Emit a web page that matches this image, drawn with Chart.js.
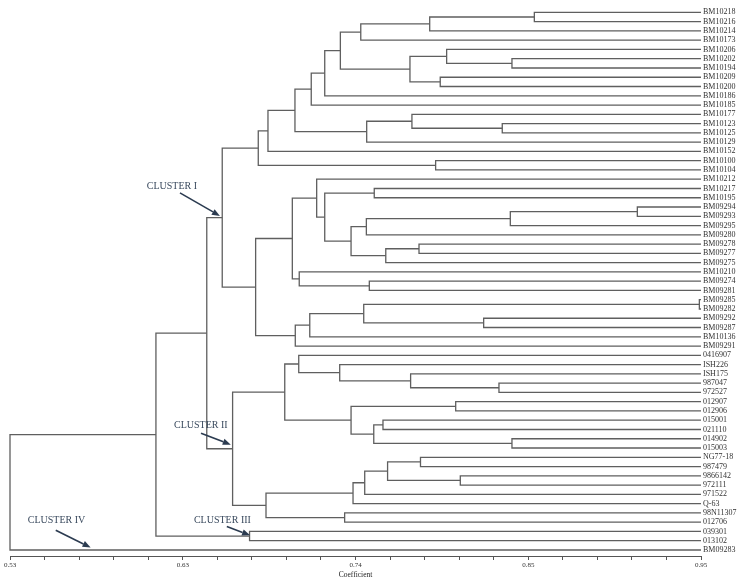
<!DOCTYPE html>
<html>
<head>
<meta charset="utf-8">
<script src="https://cdn.jsdelivr.net/npm/chart.js@4/dist/chart.umd.min.js"></script>
<style>
html,body{margin:0;padding:0;background:#ffffff;}
canvas{display:block;}
</style>
</head>
<body>
<canvas id="c" width="738" height="580"></canvas>
<script>
// ---- DATA ----
const leaves = [
  'BM10218','BM10216','BM10214','BM10173','BM10206','BM10202','BM10194','BM10209','BM10200','BM10186',
  'BM10185','BM10177','BM10123','BM10125','BM10129','BM10152','BM10100','BM10104','BM10212','BM10217',
  'BM10195','BM09294','BM09293','BM09295','BM09280','BM09278','BM09277','BM09275','BM10210','BM09274',
  'BM09281','BM09285','BM09282','BM09292','BM09287','BM10136','BM09291','0416907','ISH226','ISH175',
  '987047','972527','012907','012906','015001','021110','014902','015003','NG77-18','987479',
  '9866142','972111','971522','Q-63','98N11307','012706','039301','013102','BM09283'
];
// linkage: child ids < 59 are leaves, ids >= 59 are earlier merges (59 + merge index)
const mergeLeft = [
  0, 59, 60, 5, 4, 7, 63, 61, 66, 67,
  12, 11, 70, 68, 72, 16, 73, 19, 21, 77,
  78, 25, 80, 79, 76, 18, 29, 28, 84, 31,
  33, 88, 90, 91, 87, 75, 40, 39, 38, 37,
  42, 44, 46, 100, 99, 98, 48, 50, 105, 107,
  108, 54, 109, 104, 94, 56, 113, 115
];
const mergeRight = [
  1, 2, 3, 6, 62, 8, 64, 65, 9, 10,
  13, 69, 14, 71, 15, 17, 74, 20, 22, 23,
  24, 26, 27, 81, 82, 83, 30, 85, 86, 32,
  34, 89, 35, 36, 92, 93, 41, 95, 96, 97,
  43, 45, 47, 101, 102, 103, 49, 51, 106, 52,
  53, 55, 110, 111, 112, 57, 114, 58
];
const mergeCoefficient = [
  0.8487, 0.7851, 0.7432, 0.8351, 0.7954, 0.7915, 0.7731, 0.7308, 0.7213, 0.7131,
  0.8292, 0.7743, 0.7468, 0.7032, 0.6868, 0.7887, 0.6809, 0.7514, 0.9113, 0.8341,
  0.7466, 0.7786, 0.7584, 0.7373, 0.7213, 0.7164, 0.7484, 0.7058, 0.7016, 0.9490,
  0.8179, 0.7450, 0.7122, 0.7034, 0.6793, 0.6590, 0.8272, 0.7735, 0.7304, 0.7055,
  0.8009, 0.7567, 0.8351, 0.7511, 0.7373, 0.6970, 0.7795, 0.8037, 0.7595, 0.7456,
  0.7385, 0.7334, 0.6856, 0.6653, 0.6496, 0.6756, 0.6187, 0.5300
];
const leafCoefficient = 0.95;
const xMajorTicks = [0.53, 0.635, 0.74, 0.845, 0.95];
const xTickLabels = ['0.53', '0.63', '0.74', '0.85', '0.95'];
const axisTitle = 'Coefficient';
const clusterNames = ['CLUSTER I', 'CLUSTER II', 'CLUSTER III', 'CLUSTER IV'];

// ---- annotation placement (data units: x = coefficient, y = leaf row) ----
const clusterNotes = [
  {tx: 0.6131, ty: 18.74, x0: 0.6333, y0: 19.47, x1: 0.6576, y1: 21.96},
  {tx: 0.6297, ty: 44.59, x0: 0.6461, y0: 45.41, x1: 0.6642, y1: 46.64},
  {tx: 0.6418, ty: 54.82, x0: 0.6618, y0: 55.46, x1: 0.6759, y1: 56.41},
  {tx: 0.5408, ty: 54.82, x0: 0.5578, y0: 55.88, x1: 0.5790, y1: 57.73}
];

// ---- build dendrogram segments ----
const nLeaf = leaves.length;
const nodeX = [], nodeY = [];
for (let i = 0; i < nLeaf; i++) { nodeX.push(leafCoefficient); nodeY.push(i); }
const datasets = [];
for (let m = 0; m < mergeCoefficient.length; m++) {
  const a = mergeLeft[m], b = mergeRight[m], h = mergeCoefficient[m];
  datasets.push({
    data: [
      {x: nodeX[a], y: nodeY[a]},
      {x: h, y: nodeY[a]},
      {x: h, y: nodeY[b]},
      {x: nodeX[b], y: nodeY[b]}
    ],
    showLine: true,
    borderColor: '#5f5f5f',
    borderWidth: 1.3,
    pointRadius: 0,
    tension: 0,
    clip: false
  });
  nodeX.push(h);
  nodeY.push((nodeY[a] + nodeY[b]) / 2);
}

// x ticks: majors plus four minor ticks between each pair
const xTickValues = [];
for (let k = 0; k < xMajorTicks.length; k++) {
  xTickValues.push(xMajorTicks[k]);
  if (k < xMajorTicks.length - 1) {
    const step = (xMajorTicks[k + 1] - xMajorTicks[k]) / 5;
    for (let j = 1; j < 5; j++) xTickValues.push(xMajorTicks[k] + j * step);
  }
}

const notesPlugin = {
  id: 'clusterNotes',
  afterDatasetsDraw(chart) {
    const ctx = chart.ctx, xs = chart.scales.x, ys = chart.scales.y;
    ctx.save();
    clusterNotes.forEach((n, i) => {
      ctx.font = '10px "Liberation Serif", "Times New Roman", serif';
      ctx.fillStyle = '#3a4a5e';
      ctx.textAlign = 'left';
      ctx.textBaseline = 'middle';
      ctx.fillText(clusterNames[i], xs.getPixelForValue(n.tx), ys.getPixelForValue(n.ty));
      const px0 = xs.getPixelForValue(n.x0), py0 = ys.getPixelForValue(n.y0);
      const px1 = xs.getPixelForValue(n.x1), py1 = ys.getPixelForValue(n.y1);
      const ang = Math.atan2(py1 - py0, px1 - px0);
      const hl = 8, hw = 3.2;
      const bx = px1 - hl * Math.cos(ang), by = py1 - hl * Math.sin(ang);
      ctx.strokeStyle = '#2b3b50';
      ctx.fillStyle = '#2b3b50';
      ctx.lineWidth = 1.6;
      ctx.beginPath();
      ctx.moveTo(px0, py0);
      ctx.lineTo(bx, by);
      ctx.stroke();
      ctx.beginPath();
      ctx.moveTo(px1, py1);
      ctx.lineTo(bx + hw * Math.sin(ang), by - hw * Math.cos(ang));
      ctx.lineTo(bx - hw * Math.sin(ang), by + hw * Math.cos(ang));
      ctx.closePath();
      ctx.fill();
    });
    ctx.restore();
  }
};

new Chart(document.getElementById('c'), {
  type: 'scatter',
  data: {datasets},
  options: {
    responsive: false,
    animation: false,
    devicePixelRatio: 1,
    layout: {padding: {left: 10, top: 0, right: 0, bottom: 0}},
    plugins: {legend: {display: false}, tooltip: {enabled: false}},
    scales: {
      x: {
        type: 'linear',
        position: 'bottom',
        min: 0.53,
        max: 0.95,
        afterBuildTicks: s => { s.ticks = xTickValues.map(v => ({value: v})); },
        afterFit: s => { s.height = 24; },
        ticks: {
          autoSkip: false,
          maxRotation: 0,
          padding: 1,
          color: '#333',
          font: {family: '"Liberation Serif", serif', size: 7},
          callback: (v, i) => (i % 5 === 0 ? xTickLabels[i / 5] : '')
        },
        grid: {drawOnChartArea: false, drawTicks: true, tickLength: 4, color: '#555', lineWidth: 1},
        border: {display: true, color: '#555', width: 1},
        title: {
          display: true,
          text: axisTitle,
          color: '#222',
          font: {family: '"Liberation Serif", serif', size: 7.5},
          padding: {top: 0, bottom: 0}
        }
      },
      y: {
        type: 'linear',
        position: 'right',
        reverse: true,
        min: -0.6,
        max: 58.65,
        afterBuildTicks: s => { s.ticks = leaves.map((_, i) => ({value: i})); },
        afterFit: s => { s.width = 37; },
        ticks: {
          autoSkip: false,
          padding: 2,
          color: '#333',
          font: {family: '"Liberation Serif", serif', size: 8},
          callback: v => leaves[v]
        },
        grid: {display: false, drawTicks: false},
        border: {display: false}
      }
    }
  },
  plugins: [notesPlugin]
});
</script>
</body>
</html>
